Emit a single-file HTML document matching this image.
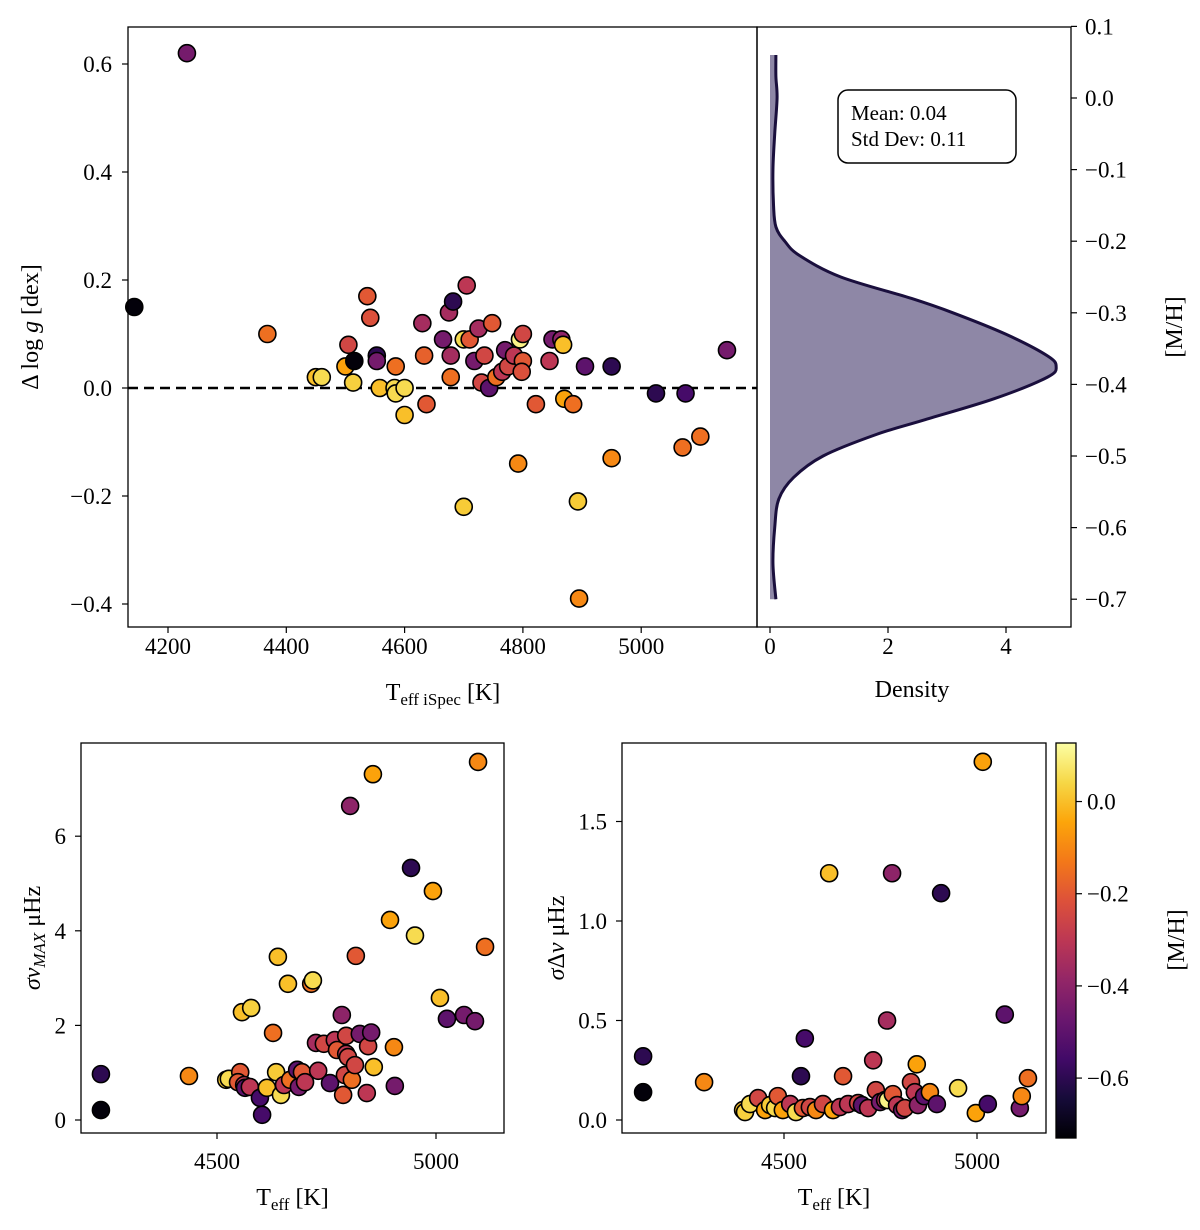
<!DOCTYPE html>
<html><head><meta charset="utf-8">
<style>
html,body{margin:0;padding:0;background:#fff;}
svg{display:block;font-family:"Liberation Serif","DejaVu Serif",serif;}
</style></head>
<body>
<svg id="fig" width="1200" height="1230" viewBox="0 0 1200 1230" xmlns="http://www.w3.org/2000/svg">
<defs>
<linearGradient id="infernoGrad" x1="0" y1="1" x2="0" y2="0">
<stop offset="0" stop-color="#000004"/><stop offset="0.1" stop-color="#160b39"/><stop offset="0.2" stop-color="#420a68"/>
<stop offset="0.3" stop-color="#6a176e"/><stop offset="0.4" stop-color="#932667"/><stop offset="0.5" stop-color="#bc3754"/>
<stop offset="0.6" stop-color="#dd513a"/><stop offset="0.7" stop-color="#f37819"/><stop offset="0.8" stop-color="#fca50a"/>
<stop offset="0.9" stop-color="#f6d746"/><stop offset="1" stop-color="#fcffa4"/>
</linearGradient>
</defs>
</svg>
<script>
// ---- Top scatter data ----
const topTeff = [4143,4232,4368,4450,4460,4500,4505,4515,4513,4537,4542,4553,4553,4558,4585,4583,4585,4600,4600,4630,4633,4637,4665,4675,4678,4682,4678,4700,4705,4710,4718,4725,4730,4735,4743,4748,4755,4765,4770,4775,4785,4792,4795,4800,4800,4798,4822,4845,4850,4865,4868,4870,4885,4893,4895,4905,4950,4950,4700,5025,5070,5075,5100,5145];
const topDlogg = [0.15,0.62,0.10,0.02,0.02,0.04,0.08,0.05,0.01,0.17,0.13,0.06,0.05,0.0,0.04,0.0,-0.01,0.0,-0.05,0.12,0.06,-0.03,0.09,0.14,0.06,0.16,0.02,0.09,0.19,0.09,0.05,0.11,0.01,0.06,0.0,0.12,0.02,0.03,0.07,0.04,0.06,-0.14,0.09,0.10,0.05,0.03,-0.03,0.05,0.09,0.09,0.08,-0.02,-0.03,-0.21,-0.39,0.04,0.04,-0.13,-0.22,-0.01,-0.11,-0.01,-0.09,0.07];
const topMH = [-0.72,-0.45,-0.15,0.0,0.05,-0.05,-0.25,-0.72,0.03,-0.2,-0.22,-0.6,-0.45,0.0,-0.15,0.05,0.05,0.05,0.0,-0.35,-0.18,-0.2,-0.45,-0.35,-0.35,-0.6,-0.15,0.05,-0.3,-0.2,-0.45,-0.35,-0.25,-0.25,-0.5,-0.2,-0.15,-0.3,-0.45,-0.25,-0.3,-0.1,0.1,-0.25,-0.2,-0.22,-0.2,-0.3,-0.45,-0.4,0.0,-0.05,-0.15,0.02,-0.1,-0.5,-0.6,-0.1,0.02,-0.6,-0.15,-0.55,-0.15,-0.45];
const topXTicks = [4200,4400,4600,4800,5000];
const topYTicks = [0.6,0.4,0.2,0.0,-0.2,-0.4];
// ---- KDE data ----
const kdeMH = [0.06,0.03,0.0,-0.05,-0.1,-0.15,-0.18,-0.2,-0.22,-0.25,-0.28,-0.30,-0.33,-0.36,-0.375,-0.39,-0.42,-0.45,-0.47,-0.5,-0.53,-0.56,-0.6,-0.65,-0.7];
const kdeDensity = [0.1,0.1,0.12,0.08,0.05,0.06,0.1,0.25,0.5,1.2,2.4,3.1,4.0,4.7,4.85,4.7,3.8,2.6,1.8,0.9,0.4,0.15,0.08,0.05,0.1];
const kdeXTicks = [0,2,4];
const kdeYTicks = [0.1,0.0,-0.1,-0.2,-0.3,-0.4,-0.5,-0.6,-0.7];
// ---- Bottom-left numax data ----
const blTeff = [4235,4235,4436,4521,4527,4553,4548,4557,4562,4578,4564,4575,4598,4603,4614,4628,4635,4639,4646,4653,4662,4667,4683,4687,4694,4701,4715,4719,4726,4731,4744,4758,4769,4774,4785,4795,4792,4788,4795,4799,4804,4808,4815,4817,4826,4842,4845,4852,4856,4858,4895,4904,4906,4943,4952,4993,5009,5025,5064,5089,5096,5112];
const blSigma = [0.21,0.97,0.93,0.85,0.87,1.01,0.80,2.28,0.74,2.37,0.68,0.70,0.47,0.11,0.68,1.84,1.01,3.45,0.53,0.74,2.88,0.85,1.06,0.70,1.01,0.80,2.88,2.95,1.63,1.04,1.61,0.78,1.69,1.48,2.22,1.78,0.95,0.53,1.40,1.33,6.64,0.85,1.16,3.47,1.82,0.57,1.56,1.85,7.31,1.12,4.23,1.54,0.72,5.33,3.90,4.84,2.58,2.14,2.22,2.09,7.57,3.66];
const blMH = [-0.72,-0.6,-0.1,0.02,0.05,-0.2,-0.2,0.0,-0.3,0.03,-0.5,-0.3,-0.55,-0.55,0.0,-0.15,0.02,0.0,0.05,-0.3,0.0,-0.15,-0.5,-0.45,-0.2,-0.3,-0.15,0.05,-0.35,-0.3,-0.25,-0.5,-0.3,-0.2,-0.4,-0.25,-0.25,-0.2,-0.3,-0.25,-0.4,-0.15,-0.25,-0.2,-0.45,-0.3,-0.25,-0.45,-0.05,0.0,-0.05,-0.1,-0.45,-0.6,0.05,-0.05,0.0,-0.5,-0.45,-0.45,-0.1,-0.15];
const blXTicks = [4500,5000];
const blYTicks = [0,2,4,6];
// ---- Bottom-right delta nu data ----
const brTeff = [4135,4135,4293,4394,4399,4412,4433,4451,4464,4477,4484,4497,4516,4531,4549,4554,4544,4567,4583,4601,4617,4627,4645,4653,4666,4692,4702,4718,4731,4738,4749,4762,4767,4769,4780,4782,4793,4806,4813,4829,4839,4844,4847,4863,4878,4896,4907,4951,4997,5015,5028,5072,5111,5116,5132];
const brSigma = [0.14,0.32,0.19,0.05,0.04,0.08,0.11,0.05,0.075,0.06,0.12,0.05,0.08,0.04,0.06,0.41,0.22,0.065,0.05,0.08,1.24,0.05,0.065,0.22,0.08,0.085,0.075,0.06,0.30,0.15,0.09,0.10,0.50,0.10,1.24,0.13,0.075,0.05,0.06,0.19,0.14,0.28,0.075,0.12,0.14,0.08,1.14,0.16,0.035,1.80,0.08,0.53,0.06,0.12,0.21];
const brMH = [-0.72,-0.6,-0.1,0.0,0.03,0.05,-0.25,-0.05,0.02,0.05,-0.2,-0.05,-0.3,0.05,-0.2,-0.55,-0.6,-0.25,-0.1,-0.25,0.0,-0.05,-0.3,-0.2,-0.3,-0.25,-0.5,-0.3,-0.3,-0.25,-0.45,-0.3,-0.35,0.1,-0.4,-0.2,-0.3,-0.45,-0.25,-0.25,-0.3,-0.05,-0.4,-0.5,-0.1,-0.5,-0.6,0.05,-0.05,-0.05,-0.55,-0.5,-0.45,-0.1,-0.15];
const brXTicks = [4500,5000];
const brYTicks = [0.0,0.5,1.0,1.5];
const cbTicks = [0.0,-0.2,-0.4,-0.6];

const NS = "http://www.w3.org/2000/svg";
const svg = document.getElementById('fig');
const TS = 23;
function el(tag, attrs, parent){ const e=document.createElementNS(NS,tag); for(const k in attrs) e.setAttribute(k,attrs[k]); (parent||svg).appendChild(e); return e; }
function txt(x,y,s,size,anchor,parent){ const t=el('text',{x:x,y:y,'font-size':size,'text-anchor':anchor||'middle',fill:'#000'},parent); t.textContent=s; return t; }
function fmt(v,d){ const s=Math.abs(v).toFixed(d); return (v<0-1e-9?'\u2212':'')+s; }

const CMIN=-0.73, CMAX=0.127;
const stops=[[0,0,0,4],[0.1,22,11,57],[0.2,66,10,104],[0.3,106,23,110],[0.4,147,38,103],[0.5,188,55,84],[0.6,221,81,58],[0.7,243,120,25],[0.8,252,165,10],[0.9,246,215,70],[1,252,255,164]];
function cmap(v){ let t=(v-CMIN)/(CMAX-CMIN); t=Math.max(0,Math.min(1,t));
  for(let i=1;i<stops.length;i++){ if(t<=stops[i][0]){ const a=stops[i-1],b=stops[i]; const f=(t-a[0])/(b[0]-a[0]);
    return 'rgb('+[1,2,3].map(j=>Math.round(a[j]+(b[j]-a[j])*f)).join(',')+')'; } } return 'rgb(252,255,164)'; }

// ===== Top-left panel =====
const TL={x0:128,x1:757,y0:27,y1:627};
const txX=v=>168+(v-4200)*0.5915, txY=v=>388-v*540;
const gTL=el('g',{});  
const dash=el('line',{x1:TL.x0,x2:TL.x1,y1:txY(0),y2:txY(0),stroke:'#000','stroke-width':2.5,'stroke-dasharray':'10,6'},gTL);
 
topTeff.forEach((T,i)=>{ const c=el('circle',{cx:txX(T),cy:txY(topDlogg[i]),r:8.5,fill:cmap(topMH[i]),stroke:'#000','stroke-width':1.6},gTL);
    });
const f1=el('rect',{x:TL.x0,y:TL.y0,width:TL.x1-TL.x0,height:TL.y1-TL.y0,fill:'none',stroke:'#000','stroke-width':1.3},gTL);
 
topXTicks.forEach(v=>{ const x=txX(v); el('line',{x1:x,x2:x,y1:TL.y1,y2:TL.y1+6,stroke:'#000','stroke-width':1.2},gTL);
  const t=txt(x,654,String(v),TS,'middle',gTL);   });
topYTicks.forEach(v=>{ const y=txY(v); el('line',{x1:TL.x0-6,x2:TL.x0,y1:y,y2:y,stroke:'#000','stroke-width':1.2},gTL);
  const t=txt(112,y+8,fmt(v,1),TS,'end',gTL);   });
let xl=el('text',{x:443,y:700,'font-size':24,'text-anchor':'middle'},gTL);
xl.innerHTML='T<tspan font-size="17" dy="5">eff iSpec</tspan><tspan dy="-5"> [K]</tspan>';
 
let yl=el('text',{x:0,y:0,'font-size':24,'text-anchor':'middle',transform:'translate(38,327) rotate(-90)'},gTL);
yl.innerHTML='\u0394 log <tspan font-style="italic">g</tspan> [dex]';
 

// ===== KDE panel =====
const KR={x0:757,x1:1071,y0:27,y1:627};
const kX=d=>770+d*59, kY=m=>98-m*716;
const gK=el('g',{});  
let pts=kdeMH.map((m,i)=>[kX(kdeDensity[i]),kY(m)]);
function smooth(p){ let d='M'+p[0][0]+','+p[0][1]; for(let i=0;i<p.length-1;i++){ const p0=p[i-1]||p[i],p1=p[i],p2=p[i+1],p3=p[i+2]||p2;
  d+=' C'+(p1[0]+(p2[0]-p0[0])/6)+','+(p1[1]+(p2[1]-p0[1])/6)+' '+(p2[0]-(p3[0]-p1[0])/6)+','+(p2[1]-(p3[1]-p1[1])/6)+' '+p2[0]+','+p2[1]; } return d; }
const line=smooth(pts);
const fillP=el('path',{d:line+' L'+kX(0)+','+kY(kdeMH[kdeMH.length-1])+' L'+kX(0)+','+kY(kdeMH[0])+' Z',fill:'#8e87a6',stroke:'none'},gK);
 
const lineP=el('path',{d:line,fill:'none',stroke:'#1a0f3d','stroke-width':3},gK);
 
const f2=el('rect',{x:KR.x0,y:KR.y0,width:KR.x1-KR.x0,height:KR.y1-KR.y0,fill:'none',stroke:'#000','stroke-width':1.3},gK);
 
kdeXTicks.forEach(v=>{ const x=kX(v); el('line',{x1:x,x2:x,y1:KR.y1,y2:KR.y1+6,stroke:'#000','stroke-width':1.2},gK);
  const t=txt(x,654,String(v),TS,'middle',gK);   });
kdeYTicks.forEach(v=>{ const y=kY(v); el('line',{x1:KR.x1,x2:KR.x1+6,y1:y,y2:y,stroke:'#000','stroke-width':1.2},gK);
  const t=txt(1085,y+8,fmt(v,1),TS,'start',gK);   });
let dl=txt(912,697,'Density',24,'middle',gK);  
let ml=el('text',{x:0,y:0,'font-size':24,'text-anchor':'middle',transform:'translate(1182,327) rotate(-90)'},gK); ml.textContent='[M/H]';
 
const sb=el('rect',{x:838,y:90,width:178,height:73,rx:10,fill:'#fff',stroke:'#000','stroke-width':1.5},gK);
 
let s1=txt(851,120,'Mean: 0.04',21,'start',gK);  
let s2=txt(851,146,'Std Dev: 0.11',21,'start',gK);  

// ===== Bottom panels =====
function panel(name,box,xs,ys,X,Y,V,xt,yt,dec,ylab,ylabx,tickx){
  const g=el('g',{});  
  X.forEach((T,i)=>{ const c=el('circle',{cx:xs(T),cy:ys(Y[i]),r:8.5,fill:cmap(V[i]),stroke:'#000','stroke-width':1.6},g);
      });
  const f=el('rect',{x:box.x0,y:box.y0,width:box.x1-box.x0,height:box.y1-box.y0,fill:'none',stroke:'#000','stroke-width':1.3},g);
   
  xt.forEach(v=>{ const x=xs(v); el('line',{x1:x,x2:x,y1:box.y1,y2:box.y1+6,stroke:'#000','stroke-width':1.2},g);
    const t=txt(x,1169,String(v),TS,'middle',g);   });
  yt.forEach(v=>{ const y=ys(v); el('line',{x1:box.x0-6,x2:box.x0,y1:y,y2:y,stroke:'#000','stroke-width':1.2},g);
    const t=txt(tickx,y+8,fmt(v,dec),TS,'end',g);   });
  const xl=el('text',{x:(box.x0+box.x1)/2,y:1205,'font-size':24,'text-anchor':'middle'},g);
  xl.innerHTML='T<tspan font-size="17" dy="5">eff</tspan><tspan dy="-5"> [K]</tspan>';
   
  const yl=el('text',{x:0,y:0,'font-size':24,'text-anchor':'middle',transform:'translate('+ylabx+',938) rotate(-90)'},g);
  yl.innerHTML=ylab;  
}
panel('numax-scatter-panel',{x0:81,x1:504,y0:743,y1:1133},v=>217+(v-4500)*0.438,v=>1120-v*47.3,blTeff,blSigma,blMH,blXTicks,blYTicks,0,
  '<tspan font-style="italic">\u03c3\u03bd</tspan><tspan font-size="17" dy="5" font-style="italic">MAX</tspan><tspan dy="-5"> \u03bcHz</tspan>',40,66);
panel('deltanu-scatter-panel',{x0:622,x1:1046,y0:743,y1:1133},v=>784+(v-4500)*0.386,v=>1120-v*199,brTeff,brSigma,brMH,brXTicks,brYTicks,1,
  '<tspan font-style="italic">\u03c3</tspan>\u0394<tspan font-style="italic">\u03bd</tspan> \u03bcHz',564,607);

// ===== Colorbar =====
const gC=el('g',{});  
const cb=el('rect',{x:1056,y:743,width:20,height:395,fill:'url(#infernoGrad)',stroke:'#000','stroke-width':1.3},gC);
 
const cY=v=>743+(CMAX-v)/(CMAX-CMIN)*395;
cbTicks.forEach(v=>{ const y=cY(v); el('line',{x1:1076,x2:1082,y1:y,y2:y,stroke:'#000','stroke-width':1.2},gC);
  const t=txt(1087,y+8,fmt(v,1),TS,'start',gC);   });
let cl=el('text',{x:0,y:0,'font-size':24,'text-anchor':'middle',transform:'translate(1184,940) rotate(-90)'},gC); cl.textContent='[M/H]';
 
</script>
</body></html>
